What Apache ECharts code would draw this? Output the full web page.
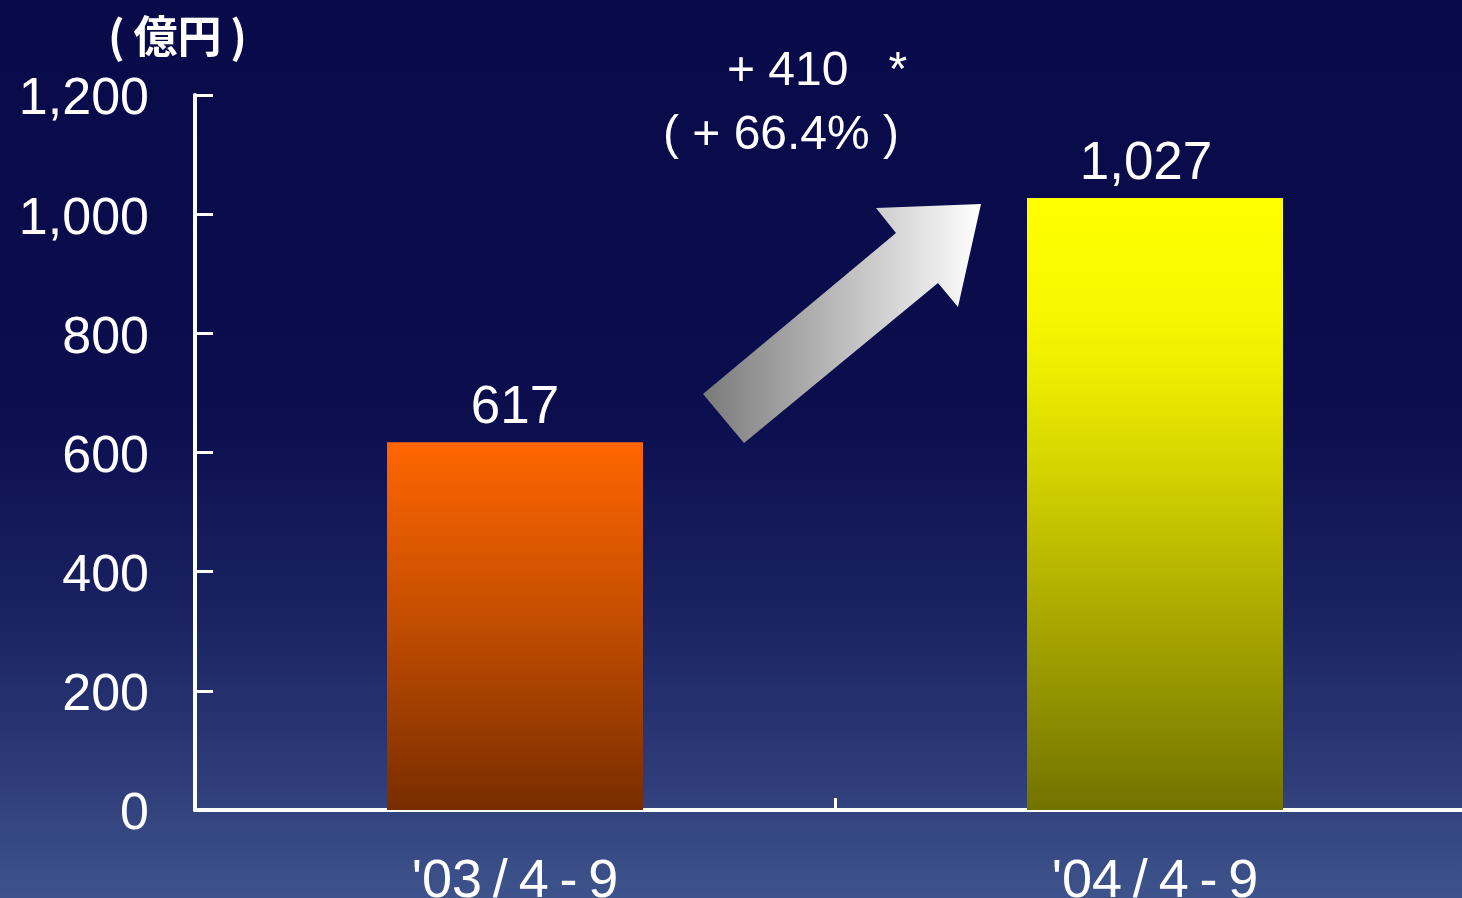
<!DOCTYPE html>
<html>
<head>
<meta charset="utf-8">
<script src="https://cdn.jsdelivr.net/npm/echarts@6/dist/echarts.min.js"></script>
<style>
html,body{margin:0;padding:0;width:1462px;height:898px;overflow:hidden;}
#c{width:1462px;height:898px;}
</style>
</head>
<body>
<div id="c"></div>
<script>
// ---- data ----
const categories = ["'03/4-9", "'04/4-9"];
const values = [617, 1027];
const yTicks = [0, 200, 400, 600, 800, 1000, 1200];
const unitLabel = "(\u2009億円\u2009)";
const changeLine1 = "+ 410   *";
const changeLine2 = "( + 66.4% )";

const chart = echarts.init(document.getElementById('c'));
const font = "'Liberation Sans', Arial, sans-serif";

function vGrad(stops) {
  return new echarts.graphic.LinearGradient(0, 0, 0, 1,
    stops.map(s => ({ offset: s[0], color: s[1] })));
}

const barColors = [
  vGrad([[0, '#ff6600'], [0.45, '#c84f00'], [1, '#782d00']]),
  vGrad([[0, '#ffff00'], [0.2, '#f6f600'], [0.3, '#ebeb00'], [0.46, '#d2d000'], [1, '#727200']])
];
const labelOffsets = [[0, 0], [-9, 0]];

chart.setOption({
  animation: false,
  backgroundColor: vGrad([[0, '#090a4a'], [0.45, '#0b0d4d'], [0.68, '#1a2262'], [0.85, '#2c3a76'], [1, '#3e538b']]),
  grid: { left: 195, width: 1280, top: 95, bottom: 88, containLabel: false, outerBoundsMode: 'none' },
  xAxis: {
    type: 'category',
    data: categories,
    axisLine: { show: true, lineStyle: { color: '#ffffff', width: 4 } },
    axisTick: { show: true, inside: true, length: 12, lineStyle: { color: '#ffffff', width: 3 } },
    axisLabel: {
      color: '#ffffff', fontFamily: font, fontSize: 54, margin: 45,
      formatter: v => v.replace('/', '\u2009/\u2009').replace('-', '\u2009-\u2009')
    },
    splitLine: { show: false }
  },
  yAxis: {
    type: 'value',
    min: yTicks[0],
    max: yTicks[yTicks.length - 1],
    interval: yTicks[1] - yTicks[0],
    axisLine: { show: true, lineStyle: { color: '#ffffff', width: 4 } },
    axisTick: { show: true, inside: true, length: 18, lineStyle: { color: '#ffffff', width: 3 } },
    axisLabel: {
      color: '#ffffff', margin: 46,
      formatter: v => '{a|' + v.toLocaleString('en-US') + '}',
      rich: { a: { color: '#ffffff', fontFamily: font, fontSize: 52, padding: [10, 0, 0, 0] } }
    },
    splitLine: { show: false }
  },
  series: [{
    type: 'bar',
    data: values.map((v, i) => ({ value: v, itemStyle: { color: barColors[i] }, label: { offset: labelOffsets[i] } })),
    barWidth: '40%',
    label: {
      show: true, position: 'top', distance: 7,
      color: '#ffffff', fontFamily: font, fontSize: 53,
      formatter: p => p.value.toLocaleString('en-US')
    }
  }],
  graphic: [
    {
      type: 'text', left: 108, top: 14,
      style: { text: unitLabel, fill: '#ffffff', font: "bold 44px 'Noto Sans CJK JP', sans-serif" }
    },
    {
      type: 'text', x: 817, y: 72,
      style: { text: changeLine1, fill: '#ffffff', font: "48px 'Liberation Sans', Arial, sans-serif",
               align: 'center', verticalAlign: 'middle' }
    },
    {
      type: 'text', x: 781, y: 136,
      style: { text: changeLine2, fill: '#ffffff', font: "48px 'Liberation Sans', Arial, sans-serif",
               align: 'center', verticalAlign: 'middle' }
    },
    {
      type: 'polygon',
      shape: { points: [[703, 394], [744, 443], [938, 283], [958, 307], [981, 204], [876, 208], [896, 233]] },
      style: {
        fill: new echarts.graphic.LinearGradient(0, 0, 1, 0, [
          { offset: 0, color: '#7a7a7a' }, { offset: 1, color: '#ffffff' }
        ])
      }
    }
  ]
});
</script>
</body>
</html>
